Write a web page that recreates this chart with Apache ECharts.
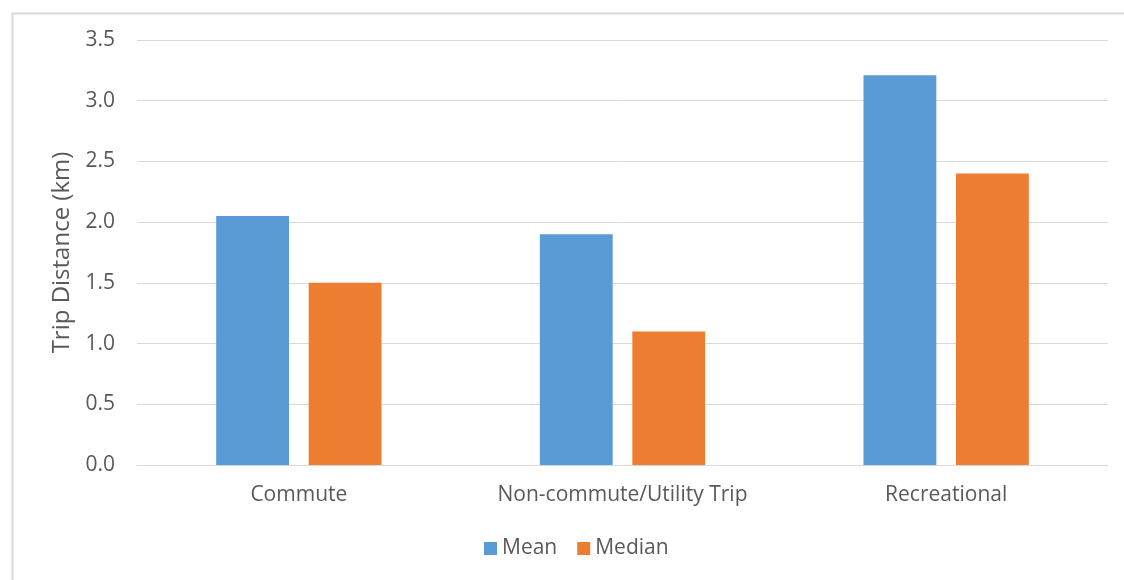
<!DOCTYPE html>
<html><head><meta charset="utf-8">
<script src="https://cdn.jsdelivr.net/npm/echarts@6/dist/echarts.min.js"></script>
<style>html,body{margin:0;padding:0;background:#fff}#c{width:1124px;height:580px}</style>
</head><body><div id="c"></div>
<script>
const categories = ['Commute', 'Non-commute/Utility Trip', 'Recreational'];
const meanValues = [2.05, 1.90, 3.21];
const medianValues = [1.50, 1.10, 2.40];
const yTicks = { min: 0, max: 3.5, interval: 0.5 };

const chart = echarts.init(document.getElementById('c'), null, { renderer: 'canvas' });
const font = '"Open Sans", sans-serif';
chart.setOption({
  animation: false,
  graphic: [{
    type: 'rect', left: 10, top: 11, shape: { width: 1130, height: 600 },
    style: { fill: 'none', stroke: '#d9d9d9', lineWidth: 2 }, silent: true
  }],
  grid: { left: 137, right: 16, top: 40, bottom: 115 },
  legend: {
    bottom: 16, left: 479, itemWidth: 13, itemHeight: 13, itemGap: 20,
    icon: 'rect',
    textStyle: { color: '#595959', fontSize: 21, fontFamily: font },
    data: ['Mean', 'Median']
  },
  xAxis: {
    type: 'category', data: categories,
    axisLine: { lineStyle: { color: '#d9d9d9', width: 1 } },
    axisTick: { show: false },
    axisLabel: { color: '#595959', fontSize: 21, fontFamily: font, margin: 20, interval: 0 }
  },
  yAxis: {
    type: 'value', min: yTicks.min, max: yTicks.max, interval: yTicks.interval,
    name: 'Trip Distance (km)', nameLocation: 'middle', nameGap: 62, nameRotate: 90,
    nameTextStyle: { color: '#595959', fontSize: 24, fontFamily: font },
    axisLine: { show: false }, axisTick: { show: false },
    splitLine: { lineStyle: { color: '#d9d9d9', width: 1 } },
    axisLabel: { color: '#595959', fontSize: 21, fontFamily: font, margin: 22,
      formatter: v => v.toFixed(1) }
  },
  series: [
    { name: 'Mean', type: 'bar', data: meanValues, barWidth: '22.5%', barGap: '27%',
      itemStyle: { color: '#5b9bd5' } },
    { name: 'Median', type: 'bar', data: medianValues, barWidth: '22.5%',
      itemStyle: { color: '#ed7d31' } }
  ]
});
</script></body></html>
